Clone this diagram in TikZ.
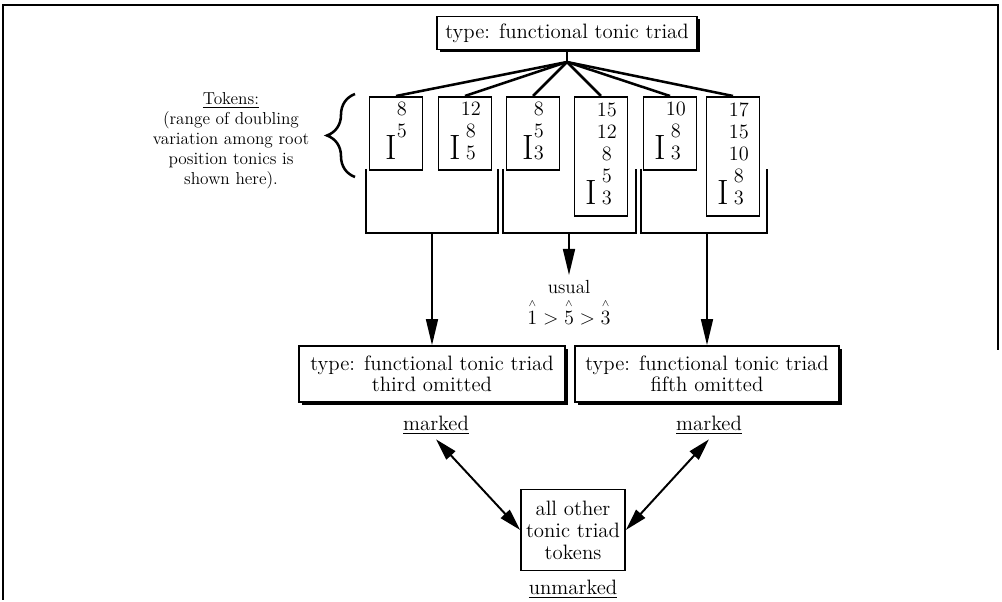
\documentclass[tikz,border=0pt]{standalone}
\usepackage{amsmath}
\usetikzlibrary{arrows.meta,shadows,decorations.pathreplacing}

\newcommand{\bigI}{\smash{\fontsize{25}{25}\selectfont I}}
\newcommand{\scdeg}[1]{\overset{\scriptscriptstyle\wedge}{#1}}

\begin{document}
\begin{tikzpicture}[x=0.025cm, y=-0.025cm,
    every node/.style={font=\fontsize{14.8}{15}\selectfont},
    typebox/.style={draw, line width=1.2pt, fill=white, align=center, inner sep=0pt,
        drop shadow={fill=black, opacity=1, shadow xshift=0.07cm, shadow yshift=-0.07cm}},
    tokbox/.style={draw, line width=1.2pt, anchor=north, minimum width=1.33cm, inner sep=0pt,
        font=\fontsize{14.5}{15.6}\selectfont},
    bracket/.style={line width=1.2pt},
    fan/.style={line width=1.8pt},
    down/.style={line width=1.2pt, -{Triangle[length=0.65cm, width=0.3cm]}},
    dbl/.style={line width=1.4pt, {Triangle[length=0.55cm, width=0.3cm]}-{Triangle[length=0.55cm, width=0.3cm]}}]
                    \useasboundingbox (0,0) rectangle (1002,602);
                    \draw [line width=0.9pt] (3,600) -- (3,5) -- (998,5) -- (998,350);
                    % type at the top
                    \node [typebox, minimum width=6.5cm, minimum height=0.83cm] (type) at (567,33) {type: functional tonic triad};
                    % tokens
                    \node [tokbox, minimum height=1.83cm] (t1) at (396,96) {\begin{tabular}{@{}l@{}c@{}} & 8\\ & 5\\ \bigI & \end{tabular}};
                    \node [tokbox, minimum height=1.83cm] (t2) at (465,96) {\begin{tabular}{@{}l@{}c@{}} & 12\\ & 8\\ \bigI & 5\end{tabular}};
                    \node [tokbox, minimum height=1.83cm] (t3) at (533,96) {\begin{tabular}{@{}l@{}c@{}} & 8\\ & 5\\ \bigI & 3\end{tabular}};
                    \node [tokbox, minimum height=2.98cm] (t4) at (601,96) {\begin{tabular}{@{}l@{}c@{}} & 15\\ & 12\\ & 8\\ & 5\\ \bigI & 3\end{tabular}};
                    \node [tokbox, minimum height=1.83cm] (t5) at (670,96) {\begin{tabular}{@{}l@{}c@{}} & 10\\ & 8\\ \bigI & 3\end{tabular}};
                    \node [tokbox, minimum height=2.98cm] (t6) at (733,96) {\begin{tabular}{@{}l@{}c@{}} & 17\\ & 15\\ & 10\\ & 8\\ \bigI & 3\end{tabular}};
                    \coordinate (hub) at (567,62);
                    \draw [fan] (type.south) -- (hub);
                    \foreach \n in {1,...,6}
                        \draw [fan] (hub) -- (t\n.north);
                    \draw [line width=1.8pt, decorate, decoration={brace, amplitude=0.7cm}] (355,177) -- (355,94);
                    \node [align=center, font=\fontsize{12.3}{14.2}\selectfont] (tokens) at (231,141)
                        {\underline{Tokens:}\\(range of doubling\\variation among root\\position tonics is\\shown here).};
                    % groups
                    \draw [bracket] (366,169) |- (432,233) coordinate (g1) -| (498,169);
                    \draw [bracket] (503,169) |- (569,233) coordinate (g2) -| (636,169);
                    \draw [bracket] (641,169) |- (707,233) coordinate (g3) -| (767,169);
                    \node [align=center, anchor=north, font=\fontsize{13.5}{22}\selectfont] (usual) at (569,275)
                        {usual\\$\scdeg{1} > \scdeg{5} > \scdeg{3}$};
                    \node [typebox, minimum width=6.65cm, minimum height=1.4cm] (third) at (432,374)
                        {type: functional tonic triad\\third omitted};
                    \node [typebox, minimum width=6.6cm, minimum height=1.4cm] (fifth) at (707,374)
                        {type: functional tonic triad\\fifth omitted};
                    \draw [down] (g1) -- (third.north);
                    \draw [down] (g2) -- (usual.north);
                    \draw [down] (g3) -- (fifth.north);
                    % markedness
                    \node (mk1) at (436,425) {\underline{marked}};
                    \node (mk2) at (709,425) {\underline{marked}};
                    \node [draw, line width=1.2pt, align=center, minimum width=2.6cm, minimum height=2.03cm, inner sep=0pt,
                        font=\fontsize{14.8}{15.6}\selectfont] (others) at (573,530) {all other\\tonic triad\\tokens};
                    \node (unm) at (573,589) {\underline{unmarked}};
                    \draw [dbl] (mk1.south) -- (others.west);
                    \draw [dbl] (mk2.south) -- (others.east);
\end{tikzpicture}
\end{document}
